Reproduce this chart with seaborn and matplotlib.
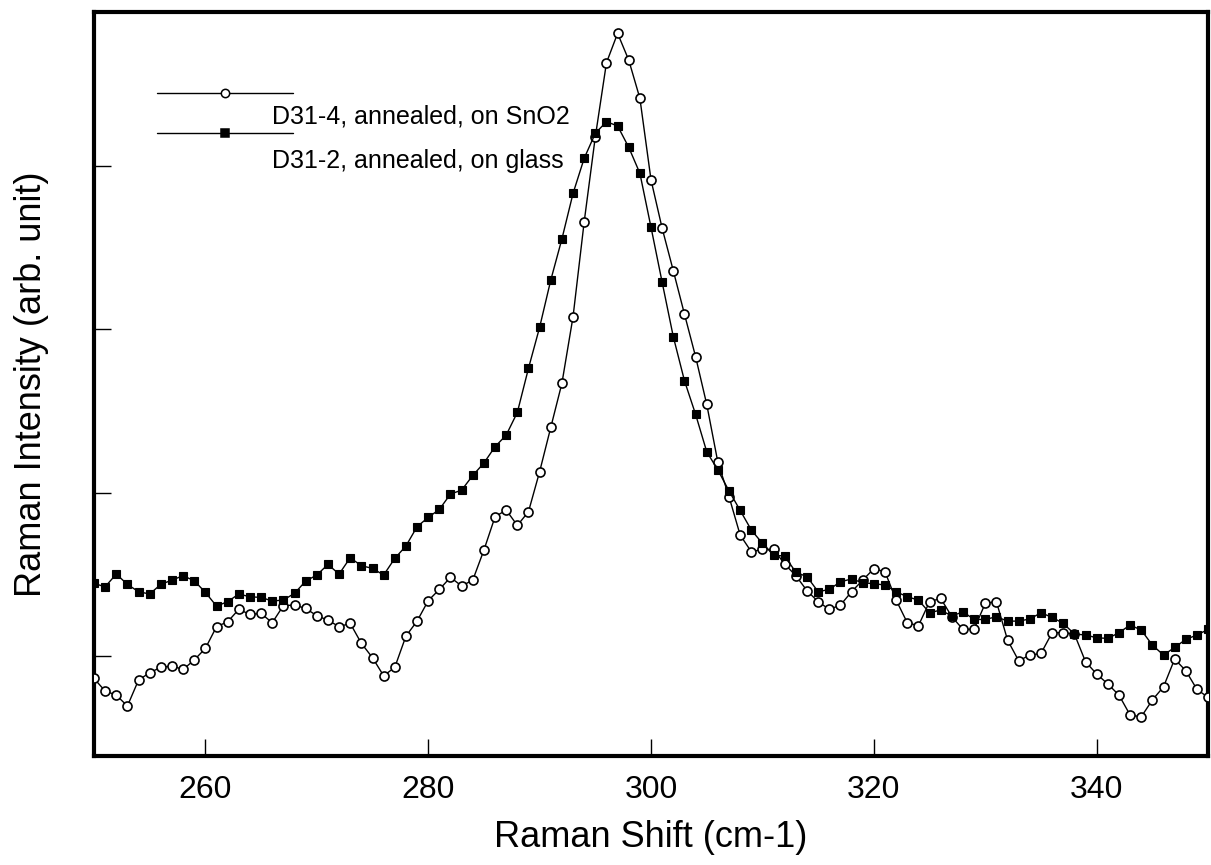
import numpy as np
import pandas as pd
import matplotlib
matplotlib.use("Agg")
import matplotlib.pyplot as plt
import seaborn as sns

# Raman shift grid (cm-1)
shift = list(range(250, 351))

# D31-4, annealed, on SnO2 (open circles)
sno2 = [0.863, 0.786, 0.761, 0.694, 0.853, 0.898, 0.931, 0.939, 0.918, 0.976,
        1.047, 1.180, 1.210, 1.286, 1.255, 1.261, 1.204, 1.309, 1.312, 1.292,
        1.247, 1.220, 1.180, 1.200, 1.078, 0.990, 0.879, 0.931, 1.122, 1.214,
        1.339, 1.408, 1.482, 1.429, 1.465, 1.649, 1.853, 1.894, 1.800, 1.884,
        2.129, 2.400, 2.670, 3.078, 3.659, 4.180, 4.633, 4.813, 4.649, 4.415,
        3.915, 3.619, 3.359, 3.094, 2.833, 2.541, 2.186, 1.976, 1.741, 1.639,
        1.653, 1.653, 1.563, 1.492, 1.400, 1.333, 1.286, 1.312, 1.394, 1.465,
        1.535, 1.516, 1.343, 1.204, 1.186, 1.333, 1.353, 1.241, 1.163, 1.165,
        1.323, 1.333, 1.098, 0.971, 1.006, 1.016, 1.143, 1.143, 1.135, 0.965,
        0.890, 0.829, 0.761, 0.639, 0.628, 0.731, 0.812, 0.982, 0.910, 0.796,
        0.747]

# D31-2, annealed, on glass (filled squares)
glass = [1.445, 1.424, 1.502, 1.439, 1.394, 1.380, 1.439, 1.465, 1.492, 1.461,
         1.390, 1.306, 1.333, 1.380, 1.363, 1.359, 1.337, 1.343, 1.384, 1.459,
         1.496, 1.561, 1.502, 1.602, 1.553, 1.537, 1.496, 1.598, 1.674, 1.792,
         1.849, 1.898, 1.992, 2.016, 2.106, 2.182, 2.282, 2.353, 2.492, 2.762,
         3.013, 3.302, 3.554, 3.833, 4.048, 4.201, 4.272, 4.246, 4.115, 3.956,
         3.625, 3.288, 2.955, 2.686, 2.480, 2.251, 2.139, 2.011, 1.892, 1.772,
         1.690, 1.618, 1.612, 1.513, 1.486, 1.394, 1.408, 1.455, 1.472, 1.449,
         1.443, 1.435, 1.394, 1.363, 1.343, 1.265, 1.282, 1.245, 1.271, 1.224,
         1.224, 1.241, 1.214, 1.214, 1.227, 1.265, 1.237, 1.200, 1.135, 1.129,
         1.112, 1.108, 1.143, 1.190, 1.159, 1.067, 1.006, 1.053, 1.102, 1.129,
         1.163]

labels = ["D31-4, annealed, on SnO2", "D31-2, annealed, on glass"]
xticks = [260, 280, 300, 320, 340]
yticks = [1, 2, 3, 4]

sns.set_style("white")
plt.rcParams["font.family"] = ["Liberation Sans", "DejaVu Sans"]
plt.rcParams["text.color"] = "black"
plt.rcParams["axes.labelcolor"] = "black"
plt.rcParams["xtick.color"] = "black"
plt.rcParams["ytick.color"] = "black"

fig = plt.figure(figsize=(12.11, 8.65), dpi=100)
ax = fig.add_axes([0.0776, 0.126, 0.92, 0.86])

sns.lineplot(x=shift, y=sno2, ax=ax, color="black", lw=1.0, marker="o",
             markersize=6.5, markerfacecolor="white", markeredgecolor="black",
             markeredgewidth=1.2, zorder=3)
sns.lineplot(x=shift, y=glass, ax=ax, color="black", lw=1.0, marker="s",
             markersize=6, markerfacecolor="black", markeredgecolor="black",
             markeredgewidth=0.8, zorder=4)

ax.set_xlim(250, 350)
ax.set_ylim(0.388, 4.943)
ax.set_xticks(xticks)
ax.set_xticklabels([str(t) for t in xticks])
ax.set_yticks(yticks)
ax.set_yticklabels([])
ax.tick_params(axis="x", direction="in", length=12, width=1.0, labelsize=23,
               pad=14, bottom=True, top=False, colors="black")
ax.tick_params(axis="y", direction="in", length=12, width=1.0,
               left=True, right=False, labelleft=False, colors="black")
for s in ax.spines.values():
    s.set_linewidth(3)
    s.set_color("black")

ax.set_xlabel("Raman Shift (cm-1)", fontsize=26, color="black")
ax.set_ylabel("Raman Intensity (arb. unit)", fontsize=26, color="black")
ax.xaxis.set_label_coords(0.5, -0.086)
ax.yaxis.set_label_coords(-0.040, 0.5)

# manual legend (line samples above offset text, as in the original)
ly = [0.891, 0.837]
mk = ["o", "s"]
fc = ["white", "black"]
ty = [0.860, 0.800]
for i in range(2):
    ax.plot([0.0566, 0.1786], [ly[i], ly[i]], transform=ax.transAxes,
            color="black", lw=1.0)
    ax.plot([0.1176], [ly[i]], transform=ax.transAxes, marker=mk[i],
            markersize=6, markerfacecolor=fc[i], markeredgecolor="black",
            markeredgewidth=1.1, linestyle="none")
    ax.text(0.160, ty[i], labels[i], transform=ax.transAxes, fontsize=18,
            ha="left", va="center", color="black")

fig.savefig("out.png", dpi=100, facecolor="white")
